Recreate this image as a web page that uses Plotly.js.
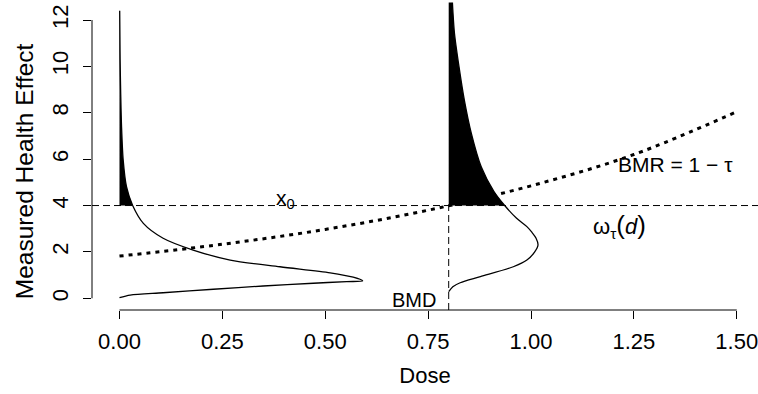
<!DOCTYPE html>
<html><head><meta charset="utf-8">
<script src="https://cdn.plot.ly/plotly-3.0.1.min.js"></script>
<style>html,body{margin:0;padding:0;background:#fff}</style>
</head><body><div id="chart" style="width:758px;height:394px"></div>
<script>
// ---- data ----
const doseTicks = [0, 0.25, 0.5, 0.75, 1.0, 1.25, 1.5];
const effectTicks = [0, 2, 4, 6, 8, 10, 12];
const threshold = 4;          // x0 (horizontal dashed line)
const bmd = 0.8;              // benchmark dose
const densityDoses = [0, 0.8];

// dotted curve: omega_tau(d)
const curveDose = [0, 0.25, 0.5, 0.75, 1.0, 1.25, 1.5];
const curveEffect = [1.82, 2.33, 2.97, 3.80, 4.85, 6.20, 8.05];

// density at dose 0 (drawn sideways)
const effect0 = [0.03, 0.14, 0.24, 0.39, 0.53, 0.65, 0.72, 0.75, 0.91, 1.10, 1.36, 1.65, 2.08, 2.59, 3.23, 4.0, 4.81, 5.96, 7.4, 8.8, 10.3, 12.4];
const dens0   = [0.0, 0.026, 0.106, 0.228, 0.349, 0.471, 0.552, 0.591, 0.568, 0.512, 0.39, 0.269, 0.179, 0.106, 0.058, 0.032, 0.017, 0.009, 0.005, 0.003, 0.0015, 0.0005];

// density at dose 0.8 (drawn sideways)
const effect1 = [0.285, 0.5, 0.67, 0.93, 1.36, 1.65, 2.0, 2.30, 2.6, 2.85, 3.09, 3.45, 4.0, 4.6, 5.67, 7.11, 8.55, 9.99, 11.43, 12.43, 12.75];
const dens1   = [0.0, 0.01, 0.028, 0.077, 0.157, 0.19, 0.209, 0.217, 0.212, 0.202, 0.19, 0.165, 0.136, 0.11, 0.079, 0.055, 0.038, 0.025, 0.014, 0.010, 0.009];

// ---- build traces ----
const FONT = 'Liberation Sans, Arial, Helvetica, sans-serif';
const traces = [];
function addDensity(base, ys, ds) {
  const ty = [], tx = [], bx = [];
  for (let i = 0; i < ys.length; i++) {
    if (ys[i] >= threshold) { ty.push(ys[i]); tx.push(base + ds[i]); bx.push(base); }
  }
  traces.push({x: bx, y: ty, type: 'scatter', mode: 'lines', line: {width: 0, color: 'black'},
               hoverinfo: 'skip', showlegend: false});
  traces.push({x: tx, y: ty, type: 'scatter', mode: 'lines', fill: 'tonextx', fillcolor: 'black',
               line: {width: 0, color: 'black', shape: 'spline', smoothing: 0.8}, hoverinfo: 'skip', showlegend: false});
  traces.push({x: ds.map(v => base + v), y: ys, type: 'scatter', mode: 'lines',
               line: {width: 1.3, color: 'black', shape: 'spline', smoothing: 0.8}, showlegend: false});
}
addDensity(densityDoses[0], effect0, dens0);
addDensity(densityDoses[1], effect1, dens1);
traces.push({x: curveDose, y: curveEffect, type: 'scatter', mode: 'lines',
             line: {width: 3, color: 'black', dash: '4px,5px', shape: 'spline'}, showlegend: false});

const xr = [-0.0668, 1.5516], yr = [-0.5045, 12.863];
const layout = {
  width: 758, height: 394,
  margin: {l: 92, r: 0, t: 0, b: 84},
  paper_bgcolor: 'white', plot_bgcolor: 'white',
  font: {family: FONT, color: 'black', size: 22},
  showlegend: false,
  xaxis: {range: xr, showgrid: false, zeroline: false, showline: false,
          tickvals: doseTicks, tickformat: '.2f', ticks: 'outside', ticklen: 8, tickwidth: 1, tickcolor: 'black',
          tickfont: {size: 22}, ticklabelstandoff: 4, ticklabeloverflow: 'allow',
          title: {text: 'Dose', font: {size: 22}, standoff: 14}, automargin: false},
  yaxis: {range: yr, showgrid: false, zeroline: false, showline: false,
          tickvals: effectTicks, ticks: 'outside', ticklen: 8, tickwidth: 1, tickcolor: 'black',
          tickangle: -90, tickfont: {size: 22}, ticklabelstandoff: 6, ticklabeloverflow: 'allow',
          automargin: false},
  shapes: [
    {type: 'line', xref: 'x', yref: 'paper', x0: doseTicks[0], x1: doseTicks[doseTicks.length-1], y0: 0, y1: 0, line: {color: 'black', width: 1}},
    {type: 'line', xref: 'paper', yref: 'y', x0: 0, x1: 0, y0: effectTicks[0], y1: effectTicks[effectTicks.length-1], line: {color: 'black', width: 1}},
    {type: 'line', xref: 'paper', yref: 'y', x0: 0, x1: 1, y0: threshold, y1: threshold, line: {color: 'black', width: 1, dash: '7px,4px'}},
    {type: 'line', xref: 'x', yref: 'y', x0: bmd, x1: bmd, y0: yr[0], y1: threshold, line: {color: 'black', width: 1, dash: '7px,4px'}}
  ],
  annotations: [
    {x: -0.102, y: 0.448, xref: 'paper', yref: 'paper', xanchor: 'center', yanchor: 'middle', showarrow: false,
     textangle: -90, text: 'Measured Health Effect', font: {size: 24.5}},
    {x: 0.3755, y: 4.3, xref: 'x', yref: 'y', xanchor: 'left', yanchor: 'middle', showarrow: false,
     text: 'x<sub>0</sub>', font: {size: 21}},
    {x: 1.35, y: 5.77, xref: 'x', yref: 'y', xanchor: 'center', yanchor: 'middle', showarrow: false,
     text: 'BMR = 1 − τ', font: {size: 21}},
    {x: 1.216, y: 3.1, xref: 'x', yref: 'y', xanchor: 'center', yanchor: 'middle', showarrow: false,
     text: 'ω<sub>τ</sub><span style="font-size:26px">(</span><i>d</i><span style="font-size:26px">)</span>', font: {size: 22}},
    {x: bmd - 0.084, y: -0.07, xref: 'x', yref: 'y', xanchor: 'center', yanchor: 'middle', showarrow: false,
     text: 'BMD', font: {size: 20}}
  ]
};
Plotly.newPlot('chart', traces, layout, {displayModeBar: false, staticPlot: true});
</script></body></html>
